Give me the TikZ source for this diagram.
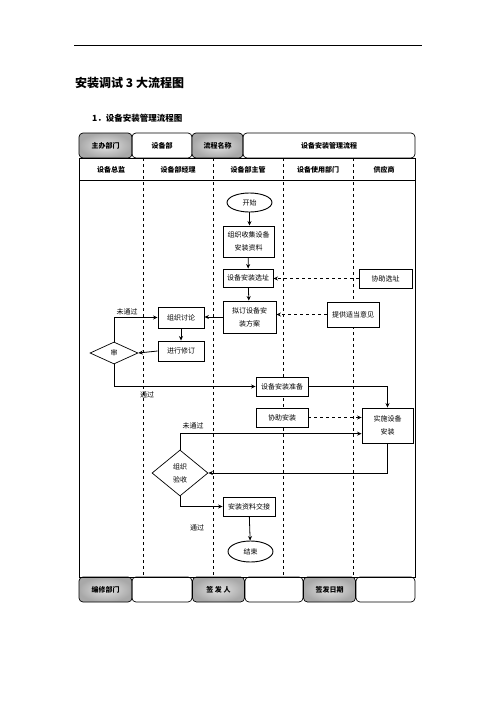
\documentclass[tikz,border=0pt]{standalone}
\usepackage{fontspec}
\setmainfont{Noto Sans CJK SC}
\usetikzlibrary{arrows.meta,shapes.geometric}

\begin{document}
\begin{tikzpicture}[x=1pt, y=-1pt,
	cell/.style={draw, rounded corners=4pt, line width=0.7pt, minimum height=25pt, inner sep=0pt, font=\fontsize{7}{8}\selectfont\bfseries},
	graycell/.style={cell, shading=radial, inner color=gray!22, outer color=gray!68},
	box/.style={draw, fill=white, line width=0.9pt, inner sep=0pt, align=center, font=\fontsize{7}{13}\selectfont},
	oval/.style={box, ellipse},
	check/.style={box, diamond},
	lbl/.style={font=\fontsize{7}{8}\selectfont, inner sep=0pt},
	flow/.style={line width=0.8pt, -{Stealth[length=4.5pt, width=4pt]}},
	help/.style={flow, dashed}]
	\useasboundingbox (0, 0) rectangle (496, 702);
	% Page head:
	\draw[line width=0.8pt] (74, 45) -- (422, 45);
	\node[anchor=west, inner sep=0pt, font=\fontsize{12}{14}\selectfont\bfseries](T1) at (75, 83){安装调试 3 大流程图};
	\node[anchor=west, inner sep=0pt, font=\fontsize{8.5}{10}\selectfont\bfseries](T2) at (92, 118){1．设备安装管理流程图};
	% Header and footer cells:
	\node[graycell, minimum width=53pt](H1) at (105.5, 145.5){主办部门};
	\node[cell, minimum width=60pt](H2) at (162, 145.5){设备部};
	\node[graycell, minimum width=51pt](H3) at (217.5, 145.5){流程名称};
	\node[cell, minimum width=172pt](H4) at (329, 145.5){设备安装管理流程};
	\node[graycell, minimum width=53pt](F1) at (105.5, 589.5){编修部门};
	\node[cell, minimum width=60pt](F2) at (162, 589.5){};
	\node[graycell, minimum width=52pt](F3) at (218.5, 589.5){签\ 发\ 人};
	\node[cell, minimum width=58pt](F4) at (274, 589.5){};
	\node[graycell, minimum width=52pt](F5) at (329.5, 589.5){签发日期};
	\node[cell, minimum width=59pt](F6) at (385.5, 589.5){};
	% Lanes:
	\draw[line width=0.7pt] (79, 158) rectangle (415, 577);
	\draw[line width=0.7pt] (79, 180) -- (415, 180);
	\foreach \x in {143, 213.5, 283, 353}
		\draw[dashed, line width=0.6pt] (\x, 158) -- (\x, 577);
	\node[lbl, font=\fontsize{7}{8}\selectfont\bfseries](L1) at (111, 170){设备总监};
	\node[lbl, font=\fontsize{7}{8}\selectfont\bfseries](L2) at (178, 170){设备部经理};
	\node[lbl, font=\fontsize{7}{8}\selectfont\bfseries](L3) at (248, 170){设备部主管};
	\node[lbl, font=\fontsize{7}{8}\selectfont\bfseries](L4) at (318, 170){设备使用部门};
	\node[lbl, font=\fontsize{7}{8}\selectfont\bfseries](L5) at (384, 170){供应商};
	% Steps:
	\node[oval, minimum width=45pt, minimum height=19pt](start) at (249.5, 202.5){开始};
	\node[box, minimum width=51pt, minimum height=31pt](collect) at (248.5, 241.5){组织收集设备\\安装资料};
	\node[box, minimum width=50pt, minimum height=18pt](site) at (248, 278){设备安装选址};
	\node[box, minimum width=53pt, minimum height=19pt](helpsite) at (385.5, 278.5){协助选址};
	\node[box, minimum width=53pt, minimum height=32pt](plan) at (249.5, 317){拟订设备安\\装方案};
	\node[box, minimum width=52pt, minimum height=25pt](advice) at (353, 314.5){提供适当意见};
	\node[box, minimum width=46pt, minimum height=21pt](discuss) at (181, 317.5){组织讨论};
	\node[box, minimum width=46pt, minimum height=20pt](revise) at (181, 351){进行修订};
	\node[check, line width=0.7pt, minimum width=48pt, minimum height=22pt](audit) at (114, 353){审};
	\node[box, minimum width=52pt, minimum height=19pt](prep) at (282, 386.5){设备安装准备};
	\node[box, minimum width=52pt, minimum height=19pt](assist) at (282, 417.5){协助安装};
	\node[box, minimum width=51pt, minimum height=35pt](install) at (387.5, 425.5){实施设备\\安装};
	\node[check, line width=0.7pt, minimum width=56pt, minimum height=46pt](accept) at (180, 473){组织\\验收};
	\node[box, minimum width=52pt, minimum height=19pt](handover) at (249, 506.5){安装资料交接};
	\node[oval, minimum width=45pt, minimum height=21pt](finish) at (250.5, 551.5){结束};
	% Wires:
	\draw[flow] (start.south) -- (collect.north -| start.south);
	\draw[flow] (collect) -- (site);
	\draw[flow] (site) -- (plan);
	\draw[help] (helpsite.west) -- (helpsite.west -| site.east);
	\draw[help] (advice.west) -- (advice.west -| plan.east);
	\draw[flow] (plan.west) -- (plan.west -| discuss.east);
	\draw[flow] (discuss) -- (revise);
	\draw[flow] (revise.west) -- (audit.east);
	\draw[flow] (audit.north) |- (discuss.west);
	\draw[flow] (audit.south) |- (prep.west);
	\draw[flow] (prep.east) -| (install.north);
	\draw[help] (assist.east) -- (assist.east -| install.west);
	\draw[flow] (accept.north) -- ++(0, -16) coordinate (redo) -- (redo -| install.west);
	\draw[flow] (install.south) |- (accept.east);
	\draw[flow] (accept.south) |- (handover.west);
	\draw[flow] (handover) -- (finish);
	% Labels:
	\node[lbl](N1) at (127, 312){未通过};
	\node[lbl](N2) at (147, 395){通过};
	\node[lbl](N3) at (193, 426){未通过};
	\node[lbl](N4) at (197, 528){通过};
\end{tikzpicture}
\end{document}
